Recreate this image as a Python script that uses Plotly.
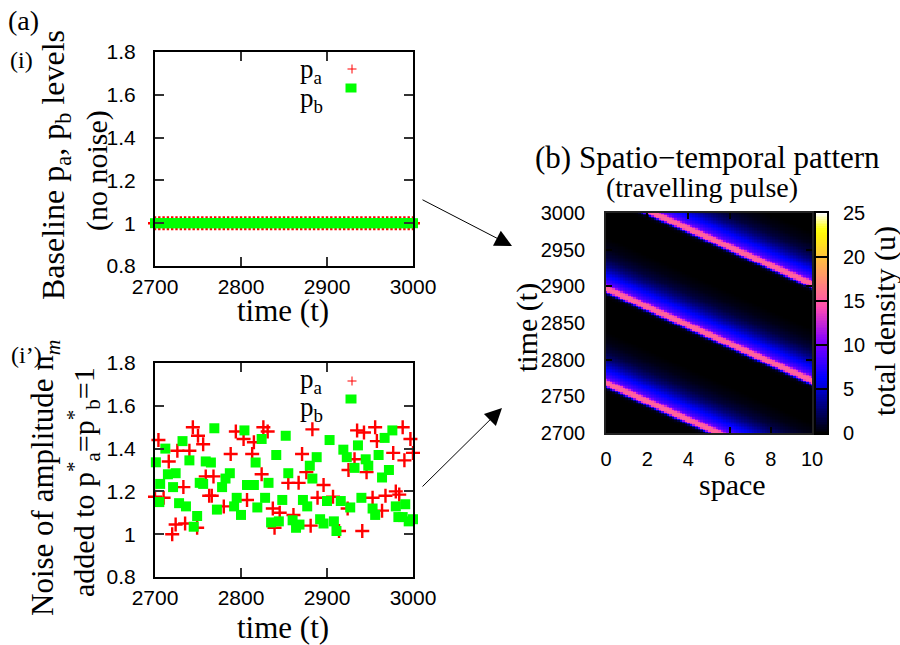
import numpy as np
import plotly.graph_objects as go

W, H = 900, 645

# ---- (i) baseline levels, no noise ----
t_base = list(range(2700, 3001, 5))
pa_base = [1.0] * len(t_base)
pb_base = [1.0] * len(t_base)

# ---- (i') noisy levels ----
pa_noise_t = [2700, 2704, 2710, 2716, 2720, 2724, 2726, 2733, 2735, 2740, 2744, 2749,
              2750, 2756, 2759, 2763, 2766, 2768, 2780, 2788, 2794, 2803, 2807, 2813,
              2815, 2824, 2826, 2831, 2837, 2839, 2845, 2855, 2861, 2867, 2871, 2876,
              2881, 2883, 2889, 2896, 2907, 2914, 2924, 2925, 2932, 2935, 2941, 2943,
              2946, 2953, 2956, 2958, 2964, 2968, 2977, 2980, 2984, 2988, 2990, 2997, 3000]
pa_noise_v = [1.175, 1.44, 1.17, 1.34, 1.0, 1.045, 1.39, 1.22, 1.05, 1.39, 1.50, 1.03,
              1.46, 1.42, 1.27, 1.18, 1.18, 1.27, 1.13, 1.375, 1.48, 1.445, 1.16, 1.375,
              1.43, 1.28, 1.50, 1.48, 1.12, 1.03, 1.10, 1.24, 1.09, 1.24, 1.375, 1.29,
              1.04, 1.49, 1.17, 1.23, 1.175, 1.015, 1.12, 1.30, 1.35, 1.485, 1.015, 1.475,
              1.29, 1.17, 1.50, 1.435, 1.11, 1.18, 1.38, 1.20, 1.185, 1.50, 1.345, 1.445, 1.38]

pb_noise_t = [2701, 2706, 2705, 2712, 2715, 2721, 2724, 2728, 2732, 2736, 2740, 2745,
              2749, 2752, 2756, 2759, 2765, 2769, 2772, 2778, 2782, 2787, 2792, 2795,
              2800, 2804, 2807, 2815, 2817, 2819, 2824, 2828, 2832, 2835, 2841, 2844,
              2848, 2852, 2855, 2860, 2864, 2868, 2872, 2877, 2880, 2883, 2888, 2892,
              2896, 2900, 2903, 2908, 2911, 2916, 2919, 2923, 2927, 2932, 2936, 2940,
              2945, 2948, 2953, 2956, 2960, 2964, 2967, 2972, 2976, 2980, 2983, 2988,
              2991, 2995, 3000]
pb_noise_v = [1.336, 1.235, 1.15, 1.40, 1.28, 1.22, 1.285, 1.145, 1.435, 1.13, 1.345, 1.035,
              1.085, 1.24, 1.235, 1.34, 1.335, 1.495, 1.115, 1.22, 1.26, 1.285, 1.13, 1.17,
              1.09, 1.485, 1.23, 1.23, 1.335, 1.125, 1.445, 1.17, 1.24, 1.055, 1.37, 1.06,
              1.16, 1.46, 1.285, 1.065, 1.03, 1.045, 1.16, 1.13, 1.32, 1.26, 1.36, 1.07,
              1.05, 1.155, 1.44, 1.06, 1.015, 1.155, 1.395, 1.36, 1.125, 1.31, 1.415, 1.17,
              1.35, 1.32, 1.12, 1.09, 1.37, 1.265, 1.45, 1.30, 1.485, 1.13, 1.08, 1.08,
              1.14, 1.06, 1.07]

# ---- (b) travelling pulse: density profile across the pulse ----
# offset in time from the pulse ridge (positive = behind the pulse)
pulse_offset = [-14, -10, -8, -6.5, -5, -3.5, -1.5, 0, 1.5, 3.5, 5, 7, 10, 14, 19, 25, 32, 42, 55, 70]
pulse_density = [0, 0.3, 1.5, 5, 10, 14.5, 15.5, 15.5, 15.5, 14, 11, 9, 8, 7, 6, 4.5, 3, 1.5, 0.5, 0]
pulse_t0 = [2768, 2897, 3029]      # time at which each pulse passes space = 0
pulse_lag = 12.6                   # time units per unit of space travelled

space = np.arange(0, 10.0001, 0.125)
times = np.arange(2700, 3000.001, 2)
X, T = np.meshgrid(space, times)
dens = np.zeros_like(X)
for t0 in pulse_t0:
    d = T - (t0 - pulse_lag * X)
    dens = np.maximum(dens, np.interp(d, pulse_offset, pulse_density, left=0, right=0))

cb_levels = np.linspace(0, 25, 126)


# gnuplot rgbformulae 30,31,32 palette
def pal(x):
    r = x / 0.32 - 0.78125
    g = 2 * x - 0.84
    if x < 0.25:
        b = 4 * x
    elif x < 0.42:
        b = 1.0
    elif x < 0.92:
        b = -2 * x + 1.84
    else:
        b = x / 0.08 - 11.5
    c = [min(max(v, 0), 1) for v in (r, g, b)]
    return "rgb(%d,%d,%d)" % tuple(round(v * 255) for v in c)


cscale = [[s, pal(s)] for s in np.linspace(0, 1, 41)]

SERIF = "Liberation Serif"
SANS = "Liberation Sans"


def dom_x(a, b):
    return [a / W, b / W]


def dom_y(top, bot):
    return [1 - bot / H, 1 - top / H]


def P(x, y):
    return x / W, 1 - y / H


fig = go.Figure()

red_cross = dict(symbol="cross-thin", size=10, line=dict(color="#ff0000", width=2.4))
green_sq = dict(symbol="square", size=10, color="#00ff00", line=dict(width=0))

fig.add_trace(go.Scatter(x=t_base, y=pa_base, mode="markers", marker=red_cross,
                         xaxis="x", yaxis="y", cliponaxis=False, showlegend=False))
fig.add_trace(go.Scatter(x=t_base, y=pb_base, mode="markers", marker=green_sq,
                         xaxis="x", yaxis="y", cliponaxis=False, showlegend=False))
fig.add_trace(go.Scatter(x=pa_noise_t, y=pa_noise_v, mode="markers", marker=red_cross,
                         xaxis="x2", yaxis="y2", cliponaxis=False, showlegend=False))
fig.add_trace(go.Scatter(x=pb_noise_t, y=pb_noise_v, mode="markers", marker=green_sq,
                         xaxis="x2", yaxis="y2", cliponaxis=False, showlegend=False))

fig.add_trace(go.Heatmap(x=space, y=times, z=dens, colorscale=cscale, zmin=0, zmax=25,
                         showscale=False, xaxis="x3", yaxis="y3", hoverinfo="skip"))
fig.add_trace(go.Heatmap(x=[0], y=cb_levels, z=[[v] for v in cb_levels], colorscale=cscale,
                         zmin=0, zmax=25, showscale=False, xaxis="x4", yaxis="y4",
                         hoverinfo="skip"))

left_x = dict(range=[2700, 3000], tickvals=[2700, 2800, 2900, 3000],
              ticks="inside", ticklen=9, tickwidth=1.5, tickcolor="#333",
              showline=True, linewidth=2, linecolor="black", mirror="allticks",
              showgrid=False, zeroline=False, automargin=False,
              tickfont=dict(family=SANS, size=21, color="black"), ticklabelstandoff=1)
left_y = dict(range=[0.8, 1.8], tickvals=[0.8, 1.0, 1.2, 1.4, 1.6, 1.8],
              ticktext=["0.8", "1", "1.2", "1.4", "1.6", "1.8"],
              ticks="inside", ticklen=9, tickwidth=1.5, tickcolor="#333",
              showline=True, linewidth=2, linecolor="black", mirror="allticks",
              showgrid=False, zeroline=False, automargin=False,
              tickfont=dict(family=SANS, size=21, color="black"), ticklabelstandoff=13)

fig.update_layout(
    width=W, height=H, margin=dict(l=0, r=0, t=0, b=0, pad=0, autoexpand=False),
    paper_bgcolor="white", plot_bgcolor="white", showlegend=False,
    xaxis=dict(domain=dom_x(155, 413), anchor="y", **left_x),
    yaxis=dict(domain=dom_y(52, 266), anchor="x", **left_y),
    xaxis2=dict(domain=dom_x(155, 413), anchor="y2", **left_x),
    yaxis2=dict(domain=dom_y(363, 577), anchor="x2", **left_y),
    xaxis3=dict(domain=dom_x(606, 812), anchor="y3", range=[0, 10], tickvals=[0, 2, 4, 6, 8, 10],
                ticks="inside", ticklen=6, tickwidth=1.5, tickcolor="black",
                showline=True, linewidth=1.5, linecolor="#222", mirror="allticks",
                showgrid=False, zeroline=False, automargin=False,
                tickfont=dict(family=SANS, size=20, color="black"), ticklabelstandoff=7),
    yaxis3=dict(domain=dom_y(213, 433), anchor="x3", range=[2700, 3000],
                tickvals=[2700, 2750, 2800, 2850, 2900, 2950, 3000],
                ticks="inside", ticklen=6, tickwidth=1.5, tickcolor="black",
                showline=True, linewidth=1.5, linecolor="#222", mirror="allticks",
                showgrid=False, zeroline=False, automargin=False,
                tickfont=dict(family=SANS, size=20, color="black"), ticklabelstandoff=15),
    xaxis4=dict(domain=dom_x(816, 827), anchor="y4", range=[-0.5, 0.5], showticklabels=False,
                ticks="", showline=True, linewidth=2, linecolor="black", mirror=True,
                showgrid=False, zeroline=False, automargin=False),
    yaxis4=dict(domain=dom_y(213, 433), anchor="x4", side="right", range=[0, 25],
                tickvals=[0, 5, 10, 15, 20, 25], ticks="inside", ticklen=11, tickwidth=1.5,
                tickcolor="black", showline=True, linewidth=2, linecolor="black", mirror=True,
                showgrid=False, zeroline=False, automargin=False,
                tickfont=dict(family=SANS, size=20, color="black"), ticklabelstandoff=10),
)

ann = []


def text(x, y, s, size, angle=0, xanchor="center", family=SERIF):
    px, py = P(x, y)
    ann.append(dict(x=px, y=py, xref="paper", yref="paper", text=s, showarrow=False,
                    textangle=angle, xanchor=xanchor, yanchor="middle",
                    font=dict(family=family, size=size, color="black")))


text(23, 20, "(a)", 28)
text(21, 60, "(i)", 24)
text(26, 355, "(i’)", 24)
text(55, 165, "Baseline p<sub>a</sub>, p<sub>b</sub> levels", 32, -90)
text(97, 171, "(no noise)", 30, -90)
text(283, 311, "time (t)", 31)
text(45, 478, "Noise of amplitude n<sub><i>m</i></sub>", 31, -90)
text(83, 482, "added to p<sup>*</sup><sub>a</sub>=p<sup>*</sup><sub>b</sub>=1", 30, -90)
text(283, 627, "time (t)", 31)
text(707, 158, "(b) Spatio−temporal pattern", 31)
text(702, 188, "(travelling pulse)", 28)
text(527, 328, "time (t)", 30, -90)
text(732, 484, "space", 30)
text(885, 321, "total density (u)", 30, -90)

# legend labels (text left of the sample, gnuplot style)
text(325, 71, "p<sub>a</sub>", 27, xanchor="right")
text(325, 100, "p<sub>b</sub>", 27, xanchor="right")
text(325, 381, "p<sub>a</sub>", 27, xanchor="right")
text(325, 409, "p<sub>b</sub>", 27, xanchor="right")

# arrows from the time series to the space-time plot
for (sx, sy), (tx, ty) in [((421, 199), (512, 246)), ((421, 488), (502, 408))]:
    px, py = P(tx, ty)
    ann.append(dict(x=px, y=py, xref="paper", yref="paper", ax=sx - tx, ay=sy - ty,
                    text="", showarrow=True, arrowhead=2, arrowsize=3.4, arrowwidth=1,
                    arrowcolor="black"))

fig.update_layout(annotations=ann)

# legend sample keys
shapes = []
for cx, cy in [(352, 69), (352, 381)]:
    x0, y0 = P(cx - 4.5, cy)
    x1, y1 = P(cx + 4.5, cy)
    shapes.append(dict(type="line", xref="paper", yref="paper", x0=x0, y0=y0, x1=x1, y1=y1,
                       line=dict(color="#ff0000", width=1)))
    x0, y0 = P(cx, cy - 4.5)
    x1, y1 = P(cx, cy + 4.5)
    shapes.append(dict(type="line", xref="paper", yref="paper", x0=x0, y0=y0, x1=x1, y1=y1,
                       line=dict(color="#ff0000", width=1)))
for cx, cy in [(351, 88), (351, 399)]:
    x0, y0 = P(cx - 5.5, cy + 4.5)
    x1, y1 = P(cx + 5.5, cy - 4.5)
    shapes.append(dict(type="rect", xref="paper", yref="paper", x0=x0, y0=y0, x1=x1, y1=y1,
                       fillcolor="#00ff00", line=dict(width=0)))
fig.update_layout(shapes=shapes)

fig.write_html("out.html")
